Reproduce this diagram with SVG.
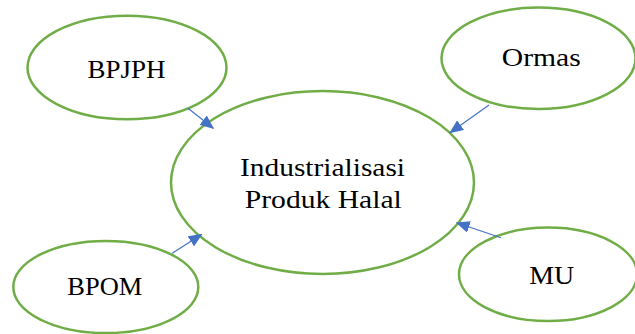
<svg xmlns="http://www.w3.org/2000/svg" width="635" height="334" viewBox="0 0 635 334">
<style>
.node{fill:#ffffff;stroke:#70AD47;stroke-width:2.5}
.lbl{font-family:"Liberation Serif","Times New Roman",serif;font-size:26px;fill:#000000;text-anchor:middle}
.edge{stroke:#4472C4;stroke-width:1.2;fill:none;marker-end:url(#ah)}
</style>
<defs>
<marker id="ah" markerUnits="userSpaceOnUse" markerWidth="14" markerHeight="12" refX="13" refY="6" orient="auto" viewBox="0 0 14 12">
<path d="M0,0 L14,6 L0,12 z" fill="#4472C4"/>
</marker>
</defs>
<rect width="635" height="334" fill="#ffffff"/>
<g id="n-center">
<ellipse class="node" cx="322.5" cy="182.5" rx="151.5" ry="91.5"/>
<text class="lbl" x="322.5" y="176" textLength="165" lengthAdjust="spacingAndGlyphs">Industrialisasi</text>
<text class="lbl" x="323.3" y="208.3" textLength="157" lengthAdjust="spacingAndGlyphs">Produk Halal</text>
</g>
<g id="n-bpjph">
<ellipse class="node" cx="127" cy="67.5" rx="99.5" ry="51.8"/>
<text class="lbl" x="126.5" y="78.3" textLength="78" lengthAdjust="spacingAndGlyphs">BPJPH</text>
</g>
<g id="n-ormas">
<ellipse class="node" cx="538.5" cy="58.3" rx="97" ry="50.7"/>
<text class="lbl" x="541.3" y="66" textLength="79" lengthAdjust="spacingAndGlyphs">Ormas</text>
</g>
<g id="n-bpom">
<ellipse class="node" cx="105.8" cy="287" rx="92.5" ry="46"/>
<text class="lbl" x="104.8" y="295" textLength="75" lengthAdjust="spacingAndGlyphs">BPOM</text>
</g>
<g id="n-mu">
<ellipse class="node" cx="548" cy="274.3" rx="89" ry="46.7"/>
<text class="lbl" x="551.7" y="284.3" textLength="45" lengthAdjust="spacingAndGlyphs">MU</text>
</g>
<g id="edges">
<line class="edge" x1="188" y1="108.3" x2="213.3" y2="128.3"/>
<line class="edge" x1="489" y1="105" x2="450" y2="132.7"/>
<line class="edge" x1="172.3" y1="253.3" x2="201.7" y2="234.3"/>
<line class="edge" x1="501" y1="237.7" x2="456.7" y2="222.7"/>
</g>
</svg>
